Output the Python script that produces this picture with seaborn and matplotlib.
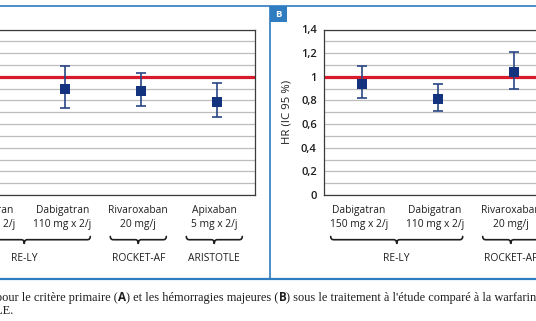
import matplotlib
matplotlib.use("Agg")
import matplotlib.pyplot as plt
import seaborn as sns
import pandas as pd
from matplotlib.path import Path
from matplotlib.patches import PathPatch, Rectangle

# ---- data -------------------------------------------------------------
drug_names = ["Dabigatran", "Dabigatran", "Rivaroxaban", "Apixaban"]
drug_doses = ["150 mg x 2/j", "110 mg x 2/j", "20 mg/j", "5 mg x 2/j"]
trials = ["RE-LY", "RE-LY", "ROCKET-AF", "ARISTOTLE"]

# (A) primary endpoint: hazard ratio with 95 % CI
hr_a = [0.66, 0.90, 0.88, 0.79]
lo_a = [0.53, 0.74, 0.75, 0.66]
hi_a = [0.82, 1.09, 1.03, 0.95]

# (B) major bleeding: hazard ratio with 95 % CI
hr_b = [0.94, 0.81, 1.04, 0.69]
lo_b = [0.82, 0.71, 0.90, 0.60]
hi_b = [1.09, 0.94, 1.21, 0.80]

ytick_values = [0, 0.2, 0.4, 0.6, 0.8, 1.0, 1.2, 1.4]
ytick_labels = ["0", "0,2", "0,4", "0,6", "0,8", "1", "1,2", "1,4"]
grid_values = [0, 0.1, 0.2, 0.3, 0.4, 0.5, 0.6, 0.7, 0.8, 0.9, 1.0, 1.1, 1.2, 1.3, 1.4]
y_label = "HR (IC 95 %)"

caption_line1 = [
    ("pour le critère primaire (", "serif"),
    ("A", "bold"),
    (") et les hémorragies majeures (", "serif"),
    ("B", "bold"),
    (") sous le traitement à l'étude comparé à la warfarine", "serif"),
]
caption_line2 = "dans les études RE-LY, ROCKET-AF et ARISTOTLE."

# ---- style ------------------------------------------------------------
NAVY = "#14337f"
BAR = "#2a4684"
RED = "#d71a2c"
FRAME = "#2f7cc0"
GRID = "#bdbdbd"
SPINE = "#3c3c3c"
TXT = "#1e1e1e"
FS = 7.4

sns.set_theme(style="white")
plt.rcParams["font.family"] = ["Open Sans", "DejaVu Sans"]

W, H = 536, 321
fig = plt.figure(figsize=(W / 100, H / 100), dpi=100)


def px_axes(left, top, width, height, **kw):
    return fig.add_axes([left / W, 1 - (top + height) / H, width / W, height / H], **kw)


ax_a = px_axes(-48.7, 29.5, 304, 165.5)
ax_b = px_axes(323.7, 29.5, 304, 165.5)

# overlay in pixel units (y pointing down) for frames, braces and caption
ov = fig.add_axes([0, 0, 1, 1], zorder=-1)
ov.set_xlim(0, W)
ov.set_ylim(H, 0)
ov.axis("off")


def draw_panel(ax, hr, lo, hi, show_labels=True):
    df = pd.DataFrame({"pos": range(len(hr)), "hr": hr, "lo": lo, "hi": hi})
    ax.axhline(1.0, color=RED, lw=2.3, zorder=2)
    ax.errorbar(df["pos"], df["hr"], yerr=[df["hr"] - df["lo"], df["hi"] - df["hr"]],
                fmt="none", ecolor=BAR, elinewidth=1.2, capsize=3.7, capthick=1.2, zorder=3)
    sns.scatterplot(data=df, x="pos", y="hr", marker="s", s=50, color=NAVY,
                    edgecolor=NAVY, linewidth=0, ax=ax, zorder=4)
    ax.set_xlim(-0.5, len(hr) - 0.5)
    ax.set_ylim(0, 1.4)
    ax.set_yticks(ytick_values, ytick_labels)
    ax.set_yticks(grid_values, minor=True)
    ax.grid(True, which="both", axis="y", color=GRID, lw=0.9, zorder=1)
    ax.set_axisbelow(True)
    ax.set_xticks([])
    ax.set_xlabel("")
    ax.set_ylabel("")
    for sp in ax.spines.values():
        sp.set_color(SPINE)
        sp.set_linewidth(0.9)
    ax.tick_params(axis="y", which="both", length=0, pad=5, labelsize=8.0,
                   labelcolor=TXT, labelleft=show_labels)
    for lab in ax.get_yticklabels():
        lab.set_fontweight("semibold")


# panel A's value axis sits beyond the left edge of the canvas
draw_panel(ax_a, hr_a, lo_a, hi_a, show_labels=False)
draw_panel(ax_b, hr_b, lo_b, hi_b)
ax_b.set_ylabel(y_label, fontsize=8.2, color=TXT, labelpad=6)


def brace(x0, x1, y_top, depth=3.2, tip=3.6, r=3.0):
    xc = (x0 + x1) / 2
    yl = y_top + depth
    verts = [(x0, y_top), (x0, yl), (x0 + r, yl),
             (xc - r, yl), (xc, yl), (xc, yl + tip),
             (xc, yl + tip), (xc, yl), (xc + r, yl),
             (x1 - r, yl), (x1, yl), (x1, y_top)]
    codes = [Path.MOVETO, Path.CURVE3, Path.CURVE3,
             Path.LINETO, Path.CURVE3, Path.CURVE3,
             Path.MOVETO, Path.CURVE3, Path.CURVE3,
             Path.LINETO, Path.CURVE3, Path.CURVE3]
    ov.add_patch(PathPatch(Path(verts, codes), fill=False, ec=TXT, lw=1.2,
                           capstyle="round", joinstyle="round"))


def category_labels(ax):
    xs = [ax.transData.transform((i, 0))[0] - 3 for i in range(len(drug_names))]
    for x, name, dose in zip(xs, drug_names, drug_doses):
        ov.text(x, 210.5, name, ha="center", va="center", fontsize=FS, color=TXT)
        ov.text(x, 224.5, dose, ha="center", va="center", fontsize=FS, color=TXT)
    # group consecutive categories by trial
    groups = []
    for i, t in enumerate(trials):
        if groups and groups[-1][0] == t:
            groups[-1][2] = i
        else:
            groups.append([t, i, i])
    for t, i0, i1 in groups:
        x0, x1 = xs[i0] - 28, xs[i1] + 28
        brace(x0, x1, 236.5)
        ov.text((x0 + x1) / 2, 258.5, t, ha="center", va="center", fontsize=FS, color=TXT)


category_labels(ax_a)
category_labels(ax_b)

# panel frames
ov.plot([0, W], [6, 6], color=FRAME, lw=1.2, solid_capstyle="butt")
ov.plot([0, W], [279, 279], color=FRAME, lw=1.6, solid_capstyle="butt")
ov.plot([269.5, 269.5], [6, 279], color=FRAME, lw=1.2, solid_capstyle="butt")
ov.add_patch(Rectangle((270, 6), 17, 16, color=FRAME, lw=0))
ov.text(278.5, 14.2, "B", ha="center", va="center", fontsize=6.8, color="white",
        fontweight="bold")

# caption below the figure
renderer = fig.canvas.get_renderer()
x = -3.5
for s, kind in caption_line1:
    if kind == "bold":
        t = ov.text(x, 297.5, s, ha="left", va="center", fontsize=8.4, color=TXT,
                    family=["Open Sans", "DejaVu Sans"], fontweight="bold")
    else:
        t = ov.text(x, 297.5, s, ha="left", va="center", fontsize=8.9, color=TXT,
                    family=["Liberation Serif", "DejaVu Serif"])
    bb = t.get_window_extent(renderer)
    x = ov.transData.inverted().transform((bb.x1, 0))[0]
ov.text(13, 310.5, caption_line2, ha="right", va="center", fontsize=8.9, color=TXT,
        family=["Liberation Serif", "DejaVu Serif"])

fig.savefig("out.png", dpi=100)
